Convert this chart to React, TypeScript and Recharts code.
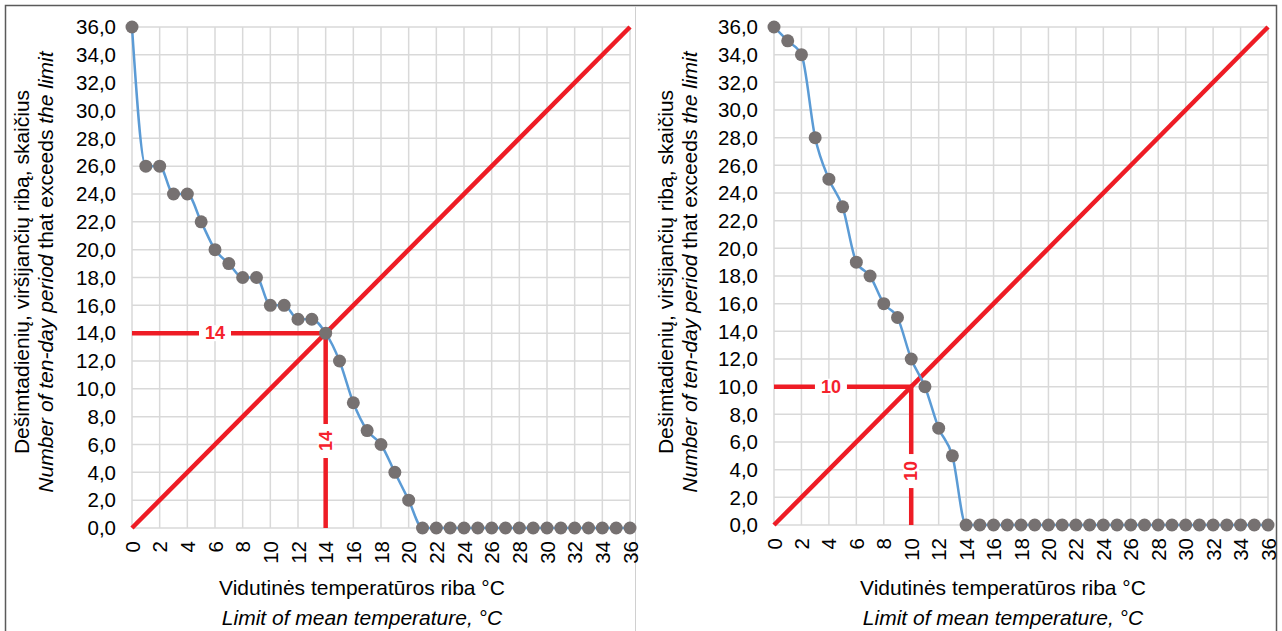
import { ComposedChart, Line, Scatter, XAxis, YAxis, CartesianGrid } from "recharts";

const FONT = "'Liberation Sans', Arial, sans-serif";

const TEMPS = [
  0, 1, 2, 3, 4, 5, 6, 7, 8, 9, 10, 11, 12, 13, 14, 15, 16, 17, 18, 19, 20,
  21, 22, 23, 24, 25, 26, 27, 28, 29, 30, 31, 32, 33, 34, 35, 36,
];

const LEFT_COUNTS = [
  36, 26, 26, 24, 24, 22, 20, 19, 18, 18, 16, 16, 15, 15, 14, 12, 9, 7, 6, 4, 2,
  0, 0, 0, 0, 0, 0, 0, 0, 0, 0, 0, 0, 0, 0, 0, 0,
];

const RIGHT_COUNTS = [
  36, 35, 34, 28, 25, 23, 19, 18, 16, 15, 12, 10, 7, 5, 0, 0, 0, 0, 0, 0, 0,
  0, 0, 0, 0, 0, 0, 0, 0, 0, 0, 0, 0, 0, 0, 0, 0,
];

const AXIS_TICKS = [0, 2, 4, 6, 8, 10, 12, 14, 16, 18, 20, 22, 24, 26, 28, 30, 32, 34, 36];

const DIAGONAL = [
  { x: 0, y: 0 },
  { x: 36, y: 36 },
];

const LEFT_CROSS = 14;
const RIGHT_CROSS = 10;

// where the value labels sit on the red guide lines
const LEFT_LABELS = [
  { x: 6.0, y: 14, text: "14", dir: "h" },
  { x: 14, y: 6.25, text: "14", dir: "v" },
];
const RIGHT_LABELS = [
  { x: 4.15, y: 10, text: "10", dir: "h" },
  { x: 10, y: 3.9, text: "10", dir: "v" },
];

const RED = "#EE1C25";
const BLUE = "#5B9BD5";
const GRAY_DOT = "#767171";
const GRID = "#D9D9D9";

const renderXTick = (p: any) => (
  <text
    x={p.x}
    y={p.y}
    transform={`rotate(-90 ${p.x} ${p.y})`}
    textAnchor="end"
    dominantBaseline="central"
    fontSize={20.5}
    fill="#000"
    fontFamily={FONT}
  >
    {p.payload.value}
  </text>
);

const renderLabel = (p: any) => {
  const { cx, cy, payload } = p;
  if (payload.dir === "h") {
    return (
      <g>
        <rect x={cx - 16} y={cy - 8} width={32} height={16} fill="#fff" />
        <text x={cx} y={cy} textAnchor="middle" dominantBaseline="central" fontSize={18} fontWeight="bold" fill="#F5222D" fontFamily={FONT}>
          {payload.text}
        </text>
      </g>
    );
  }
  return (
    <g>
      <rect x={cx - 8} y={cy - 17} width={16} height={34} fill="#fff" />
      <text x={cx} y={cy} transform={`rotate(-90 ${cx} ${cy})`} textAnchor="middle" dominantBaseline="central" fontSize={18} fontWeight="bold" fill="#F5222D" fontFamily={FONT}>
        {payload.text}
      </text>
    </g>
  );
};

interface PanelProps {
  counts: number[];
  cross: number;
  labels: { x: number; y: number; text: string; dir: string }[];
  left: number;
  width: number;
  axisWidth: number;
  axisHeight: number;
  rightMargin: number;
}

function Panel({ counts, cross, labels, left, width, axisWidth, axisHeight, rightMargin }: PanelProps) {
  const points = TEMPS.map((t, i) => ({ x: t, y: counts[i] }));
  const horiz = [
    { x: 0, y: cross },
    { x: cross, y: cross },
  ];
  const vert = [
    { x: cross, y: 0 },
    { x: cross, y: cross },
  ];
  return (
    <div style={{ position: "absolute", left, top: 0 }}>
      <ComposedChart width={width} height={631} margin={{ top: 27, right: rightMargin, bottom: 0, left: 0 }}>
        <CartesianGrid stroke={GRID} strokeWidth={1.5} />
        <XAxis
          type="number"
          dataKey="x"
          domain={[0, 36]}
          ticks={AXIS_TICKS}
          interval={0}
          height={axisHeight}
          axisLine={false}
          tickLine={false}
          tickSize={0}
          tickMargin={13}
          tick={renderXTick}
        />
        <YAxis
          type="number"
          dataKey="y"
          domain={[0, 36]}
          ticks={AXIS_TICKS}
          interval={0}
          width={axisWidth}
          axisLine={false}
          tickLine={false}
          tickSize={0}
          tickMargin={16}
          tickFormatter={(v: number) => v.toFixed(1).replace(".", ",")}
          tick={{ fontSize: 20.5, fill: "#000", fontFamily: FONT }}
        />
        <Line data={DIAGONAL} dataKey="y" stroke={RED} strokeWidth={4.5} dot={false} activeDot={false} isAnimationActive={false} />
        <Line
          data={points}
          dataKey="y"
          type="monotone"
          stroke={BLUE}
          strokeWidth={2.5}
          dot={{ r: 6.5, fill: GRAY_DOT, stroke: "none" }}
          activeDot={false}
          isAnimationActive={false}
        />
        <Line data={horiz} dataKey="y" stroke={RED} strokeWidth={4.5} dot={false} activeDot={false} isAnimationActive={false} />
        <Line data={vert} dataKey="y" stroke={RED} strokeWidth={4.5} dot={false} activeDot={false} isAnimationActive={false} />
        <Scatter data={labels} dataKey="y" shape={renderLabel} isAnimationActive={false} />
      </ComposedChart>
    </div>
  );
}

function Titles({ yLine1X, yLine2X, xCenter }: { yLine1X: number; yLine2X: number; xCenter: number }) {
  return (
    <g fontFamily={FONT} fontSize={21} fill="#000">
      <text x={yLine1X} y={272} transform={`rotate(-90 ${yLine1X} 272)`} textAnchor="middle" dominantBaseline="central">
        Dešimtadienių, viršijančių ribą, skaičius
      </text>
      <text x={yLine2X} y={272} transform={`rotate(-90 ${yLine2X} 272)`} textAnchor="middle" dominantBaseline="central">
        <tspan fontStyle="italic">Number of ten-day period </tspan>
        <tspan>that exceeds </tspan>
        <tspan fontStyle="italic">the limit</tspan>
      </text>
      <text x={xCenter} y={587} textAnchor="middle" dominantBaseline="central">
        Vidutinės temperatūros riba °C
      </text>
      <text x={xCenter} y={617} textAnchor="middle" dominantBaseline="central" fontStyle="italic">
        Limit of mean temperature, °C
      </text>
    </g>
  );
}

export default function App() {
  return (
    <div style={{ position: "absolute", left: 0, top: 0, width: 1282, height: 631, background: "#fff", overflow: "hidden" }}>
      <svg width={1282} height={631} style={{ position: "absolute", left: 0, top: 0 }}>
        <rect x={5.5} y={5.5} width={1271} height={650} fill="none" stroke="#5A5A5A" strokeWidth={1.5} />
        <line x1={635.5} y1={6} x2={635.5} y2={631} stroke="#D0D0D0" strokeWidth={1} />
        <Titles yLine1X={21} yLine2X={45} xCenter={362} />
        <Titles yLine1X={665} yLine2X={689} xCenter={1003} />
      </svg>
      <Panel counts={LEFT_COUNTS} cross={LEFT_CROSS} labels={LEFT_LABELS} left={0} width={645} axisWidth={132} axisHeight={103} rightMargin={15} />
      <Panel counts={RIGHT_COUNTS} cross={RIGHT_CROSS} labels={RIGHT_LABELS} left={636} width={646} axisWidth={138} axisHeight={106} rightMargin={14} />
    </div>
  );
}
